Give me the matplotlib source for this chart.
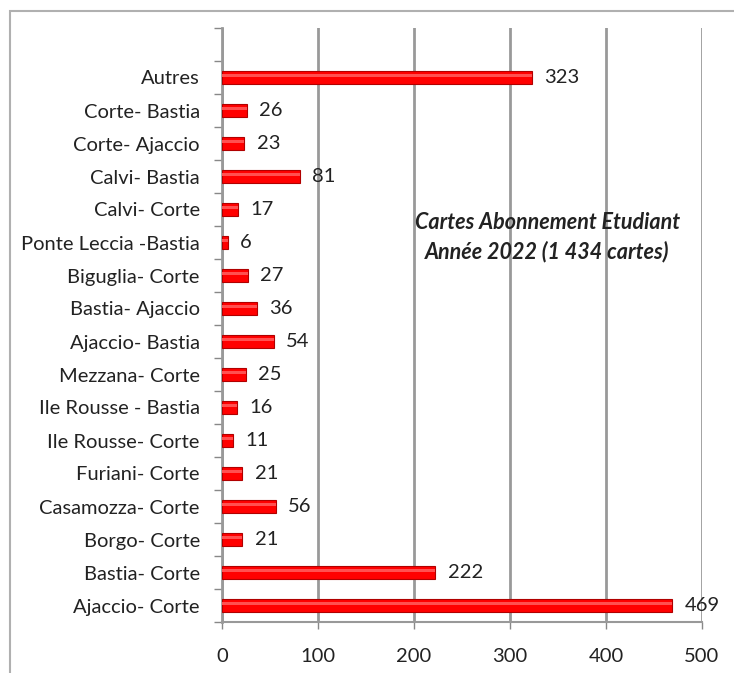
import numpy as np
import matplotlib.pyplot as plt
from matplotlib.patches import Rectangle

trajets = ["Ajaccio- Corte", "Bastia- Corte", "Borgo- Corte", "Casamozza- Corte",
           "Furiani- Corte", "Ile Rousse- Corte", "Ile Rousse - Bastia", "Mezzana- Corte",
           "Ajaccio- Bastia", "Bastia- Ajaccio", "Biguglia- Corte", "Ponte Leccia -Bastia",
           "Calvi- Corte", "Calvi- Bastia", "Corte- Ajaccio", "Corte- Bastia", "Autres"]
cartes = [469, 222, 21, 56, 21, 11, 16, 25, 54, 36, 27, 6, 17, 81, 23, 26, 323]
xticks = [0, 100, 200, 300, 400, 500]

plt.rcParams['font.family'] = ['Lato', 'DejaVu Sans']

fig = plt.figure(figsize=(7.34, 6.73), dpi=100)
# outer frame
fig.add_artist(Rectangle((10/734, -0.01), 1.0, 1 - 11/673 + 0.01, transform=fig.transFigure,
                         fill=False, edgecolor="#b0b0b0", linewidth=1.5))

ax = fig.add_axes([222/734, 1 - 622/673, 480/734, 594/673])
y = np.arange(len(trajets))

ax.barh(y, cartes, height=0.4, color="#ff0000", edgecolor="#b00000", linewidth=0.8, zorder=3)
ax.barh(y + 0.07, cartes, height=0.1, color="#ff5050", linewidth=0, zorder=4)

for yi, v in zip(y, cartes):
    ax.text(v + 13, yi, str(v), va="center", ha="left", fontsize=14.5, color="#222222")

ax.set_xlim(0, 500)
ax.set_ylim(-0.5, len(trajets) + 0.5)
ax.set_xticks(xticks)
ax.set_xticklabels([str(t) for t in xticks], fontsize=14.5, color="#222222")
ax.set_yticks(y)
ax.set_yticklabels(trajets, fontsize=14.5, color="#222222")
ax.set_yticks(np.arange(-0.5, len(trajets) + 1, 1), minor=True)
ax.tick_params(axis="y", which="major", length=0, pad=16)
ax.tick_params(axis="y", which="minor", length=6, color="#888888", width=1)
ax.tick_params(axis="x", length=5, color="#888888", width=1, pad=14)

ax.xaxis.grid(True, color="#999999", linewidth=2, zorder=0)
for s in ["top", "right"]:
    ax.spines[s].set_visible(False)
ax.spines["left"].set_color("#999999")
ax.spines["left"].set_linewidth(2)
ax.spines["bottom"].set_color("#999999")
ax.spines["bottom"].set_linewidth(1.5)

ax.text(339, 11.15, "Cartes Abonnement Etudiant\nAnnée 2022 (1 434 cartes)", ha="center",
        va="center", fontsize=15.5, fontweight="bold", fontstyle="italic",
        color="#222222", linespacing=1.45, zorder=5)

plt.savefig("out.png")
